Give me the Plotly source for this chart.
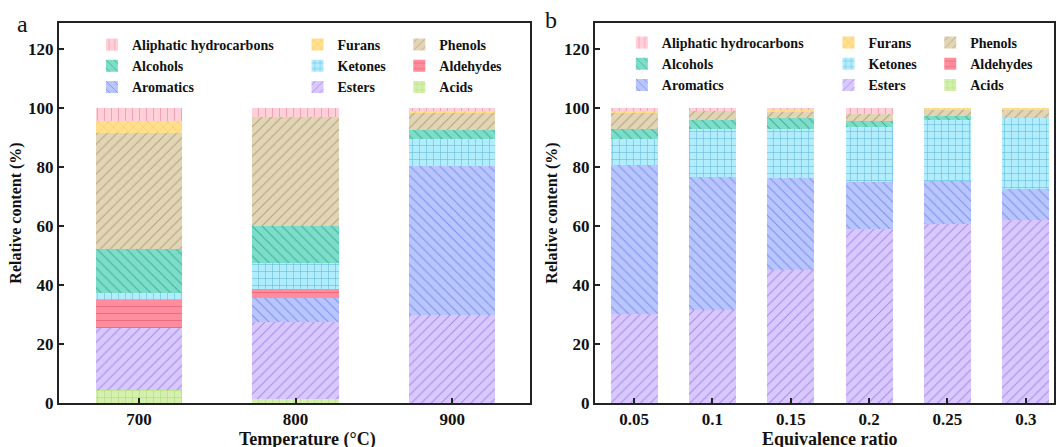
import plotly.graph_objects as go

# ---------------- data ----------------
temps = ["700", "800", "900"]
ratios = ["0.05", "0.1", "0.15", "0.2", "0.25", "0.3"]

# Temperature panel (a)
acids_T = [4.5, 1.4, 0.0]
esters_T = [20.8, 26.2, 29.9]
aromatics_T = [0.0, 8.0, 50.5]
aldehydes_T = [9.7, 3.1, 0.0]
ketones_T = [2.3, 8.7, 9.0]
alcohols_T = [14.8, 12.5, 3.2]
phenols_T = [39.3, 37.2, 5.6]
furans_T = [4.1, 0.0, 0.7]
aliphatic_T = [4.5, 2.8, 1.1]

# Equivalence ratio panel (b)
acids_R = [0.0, 0.0, 0.0, 0.0, 0.0, 0.0]
esters_R = [30.3, 31.6, 45.0, 59.1, 60.7, 61.9]
aromatics_R = [50.4, 45.0, 31.4, 15.8, 14.4, 10.7]
aldehydes_R = [0.0, 0.0, 0.0, 0.0, 0.0, 0.0]
ketones_R = [8.7, 16.2, 16.5, 18.7, 20.7, 24.1]
alcohols_R = [3.5, 3.1, 3.8, 2.0, 1.6, 0.0]
phenols_R = [5.5, 3.1, 2.2, 2.4, 2.2, 2.9]
furans_R = [0.6, 0.0, 0.4, 0.0, 0.4, 0.4]
aliphatic_R = [1.0, 1.0, 0.7, 2.0, 0.0, 0.0]

y_ticks = [0, 20, 40, 60, 80, 100, 120]

# ---------------- styles ----------------
# name: (fill, line colour, pattern shape, legend column)
styles = {
    "Acids": ("#D5EFAC", "#A9DA7C", "+", 3),
    "Esters": ("#D9C8FF", "#A58CE8", "/", 2),
    "Aromatics": ("#B9C5FF", "#7C93EE", "\\", 1),
    "Aldehydes": ("#FF8D9D", "#EE6A7C", "-", 3),
    "Ketones": ("#B2EDFD", "#5DB5DA", "+", 2),
    "Alcohols": ("#7EDDC9", "#3AB49C", "\\", 1),
    "Phenols": ("#E2D5B6", "#B5A57E", "/", 3),
    "Furans": ("#FFE08C", "#F5C36A", "x", 2),
    "Aliphatic hydrocarbons": ("#FFD0DA", "#F3A2B3", "|", 1),
}

series_T = [("Acids", acids_T), ("Esters", esters_T), ("Aromatics", aromatics_T),
            ("Aldehydes", aldehydes_T), ("Ketones", ketones_T), ("Alcohols", alcohols_T),
            ("Phenols", phenols_T), ("Furans", furans_T),
            ("Aliphatic hydrocarbons", aliphatic_T)]
series_R = [("Acids", acids_R), ("Esters", esters_R), ("Aromatics", aromatics_R),
            ("Aldehydes", aldehydes_R), ("Ketones", ketones_R), ("Alcohols", alcohols_R),
            ("Phenols", phenols_R), ("Furans", furans_R),
            ("Aliphatic hydrocarbons", aliphatic_R)]

FONT = "Liberation Serif"
W, H = 1056, 447
ML, MR, MT, MB = 59, 0, 23, 44
PW = W - ML - MR
PH = H - MT - MB


def px_x(p):
    return (p - ML) / PW


def px_y(p):
    return (H - MB - p) / PH


fig = go.Figure()

for xs, series, xa, ya, legbase, width in [
    (temps, series_T, "x", "y", 0, 0.55),
    (ratios, series_R, "x2", "y2", 3, 0.6),
]:
    for name, vals in series:
        fill, lc, shape, col = styles[name]
        leg = "legend" if legbase + col == 1 else "legend%d" % (legbase + col)
        fig.add_trace(go.Bar(
            x=xs, y=vals, name=name, xaxis=xa, yaxis=ya, width=width,
            legend=leg,
            marker=dict(color=fill, line=dict(width=0),
                        pattern=dict(shape=shape, fgcolor=lc, bgcolor=fill,
                                     size=7, solidity=0.15, fillmode="replace")),
        ))

axis_common = dict(showline=True, linewidth=2, linecolor="#222", mirror=True,
                   ticks="inside", ticklen=5, tickwidth=1.5, tickcolor="#222",
                   showgrid=False, zeroline=False,
                   tickfont=dict(family=FONT, size=17, color="#111", weight="bold"))

ytitle = dict(text="Relative content (%)",
              font=dict(family=FONT, size=16, color="#111", weight="bold"),
              standoff=2)

fig.update_layout(
    width=W, height=H, autosize=False,
    margin=dict(l=ML, r=MR, t=MT, b=MB),
    plot_bgcolor="white", paper_bgcolor="white",
    barmode="stack", bargap=0.4,
    xaxis=dict(domain=[0, px_x(531)], range=[-0.51, 2.497], anchor="y", **axis_common),
    yaxis=dict(domain=[0, 1], range=[0, 128.8], anchor="x", tickvals=y_ticks,
               title=ytitle, **axis_common),
    xaxis2=dict(domain=[px_x(596), 1], range=[-0.5, 5.36], anchor="y2", **axis_common),
    yaxis2=dict(domain=[0, 1], range=[0, 128.8], anchor="x2", tickvals=y_ticks,
                title=ytitle, **axis_common),
)

leg_font = dict(family=FONT, size=14, color="#111", weight="bold")
leg_pos = {
    "legend": 92, "legend2": 298, "legend3": 400,
    "legend4": 623, "legend5": 830, "legend6": 932,
}
for key, xp in leg_pos.items():
    yp = 29 if key in ("legend", "legend2", "legend3") else 27
    fig.update_layout({key: dict(x=px_x(xp), y=px_y(yp), xanchor="left", yanchor="top",
                                 orientation="v", traceorder="reversed",
                                 bgcolor="rgba(0,0,0,0)", borderwidth=0,
                                 font=leg_font, itemclick=False)})

ann_font = dict(family=FONT, size=18, color="#111", weight="bold")
fig.add_annotation(text="Temperature (°C)", xref="paper", yref="paper",
                   x=px_x(308), y=px_y(439), showarrow=False, font=ann_font,
                   xanchor="center", yanchor="middle")
fig.add_annotation(text="Equivalence ratio", xref="paper", yref="paper",
                   x=px_x(832), y=px_y(439), showarrow=False, font=ann_font,
                   xanchor="center", yanchor="middle")
fig.add_annotation(text="a", xref="paper", yref="paper", x=px_x(22), y=px_y(24),
                   showarrow=False, font=dict(family=FONT, size=24, color="#111"),
                   xanchor="center", yanchor="middle")
fig.add_annotation(text="b", xref="paper", yref="paper", x=px_x(552), y=px_y(20),
                   showarrow=False, font=dict(family=FONT, size=24, color="#111"),
                   xanchor="center", yanchor="middle")

fig.write_html("out.html")
